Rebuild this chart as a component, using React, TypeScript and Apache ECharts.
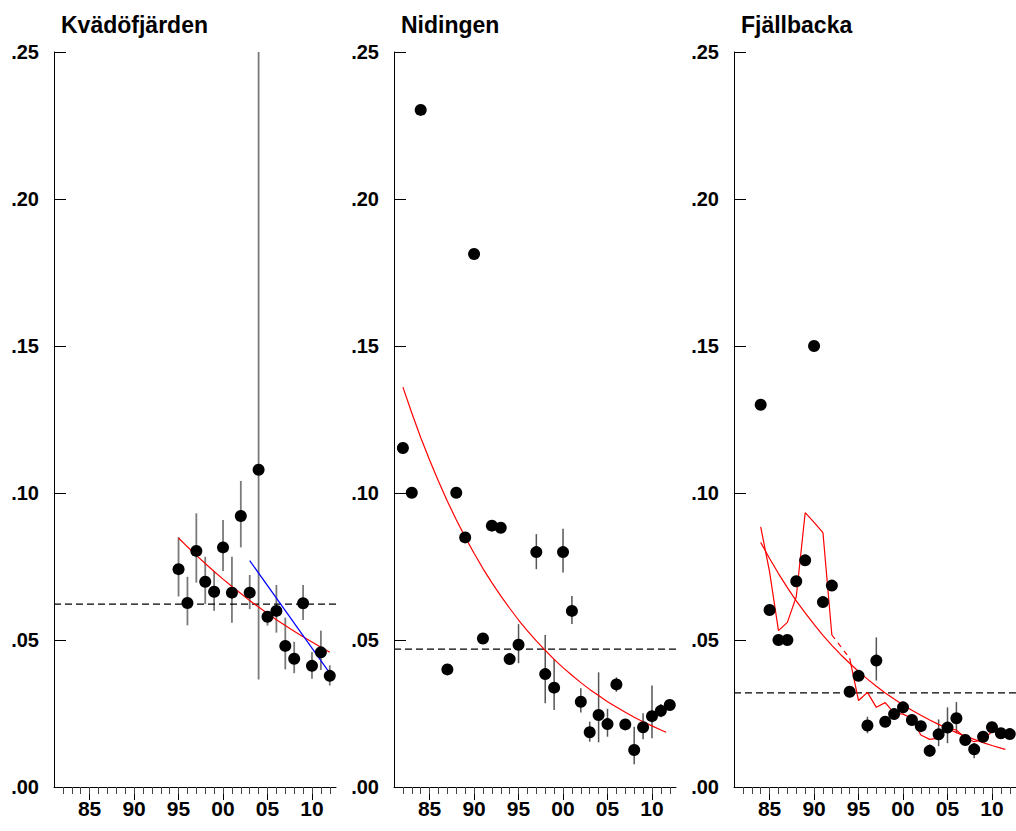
import React, { useEffect, useRef } from "react";
import * as echarts from "echarts";

const FONT = "'Liberation Sans', Arial, sans-serif";

const panelTitles = ["Kvädöfjärden", "Nidingen", "Fjällbacka"];
const meanLevels = [0.0622, 0.0469, 0.032];
const majorTicks = [1985, 1990, 1995, 2000, 2005, 2010];
const minorTicks = [1982, 1983, 1984, 1985, 1986, 1987, 1988, 1989, 1990, 1991, 1992, 1993, 1994, 1995, 1996, 1997, 1998, 1999, 2000, 2001, 2002, 2003, 2004, 2005, 2006, 2007, 2008, 2009, 2010, 2011, 2012];
const X_MIN = 1981;
const X_MAX = 2012.7;

// Panel 1: Kvädöfjärden
const kvYears = [1995, 1996, 1997, 1998, 1999, 2000, 2001, 2002, 2003, 2004, 2005, 2006, 2007, 2008, 2009, 2010, 2011, 2012];
const kvValues = [0.0741, 0.0626, 0.0803, 0.0698, 0.0664, 0.0815, 0.0661, 0.0922, 0.0661, 0.1079, 0.0579, 0.0599, 0.048, 0.0436, 0.0625, 0.0412, 0.0458, 0.0378];
const kvLow = [0.0648, 0.055, 0.0695, 0.0622, 0.0599, 0.0735, 0.0559, 0.0815, 0.0605, 0.0366, 0.0549, 0.0525, 0.04, 0.0387, 0.0568, 0.0368, 0.0398, 0.0345];
const kvHigh = [0.085, 0.0715, 0.0931, 0.0783, 0.0735, 0.0908, 0.0783, 0.1041, 0.0721, 0.25, 0.0596, 0.0687, 0.0576, 0.0494, 0.0687, 0.0459, 0.0532, 0.0414];
const kvTrendYears = [1995, 1996, 1997, 1998, 1999, 2000, 2001, 2002, 2003, 2004, 2005, 2006, 2007, 2008, 2009, 2010, 2011, 2012];
const kvTrend = [0.0847, 0.0817, 0.0788, 0.076, 0.0733, 0.0707, 0.0682, 0.0658, 0.0634, 0.0612, 0.059, 0.0569, 0.0549, 0.053, 0.0511, 0.0493, 0.0475, 0.0458];
const kvBlueYears = [2003, 2012];
const kvBlue = [0.077, 0.0387];

// Panel 2: Nidingen
const niYears = [1982, 1983, 1984, 1987, 1988, 1989, 1990, 1991, 1992, 1993, 1994, 1995, 1997, 1998, 1999, 2000, 2001, 2002, 2003, 2004, 2005, 2006, 2007, 2008, 2009, 2010, 2011, 2012];
const niValues = [0.1153, 0.1001, 0.2303, 0.04, 0.1001, 0.0849, 0.1813, 0.0505, 0.0889, 0.0882, 0.0435, 0.0484, 0.0799, 0.0384, 0.0338, 0.0799, 0.0599, 0.029, 0.0186, 0.0245, 0.0214, 0.0349, 0.0213, 0.0126, 0.0203, 0.0241, 0.0259, 0.0279];
const niLow = [null, null, null, null, null, null, null, null, null, null, null, 0.0421, 0.0741, 0.0285, 0.0262, 0.073, 0.0554, 0.0253, 0.0154, 0.0152, 0.0171, 0.0324, null, 0.0077, 0.0162, 0.0166, 0.0237, null];
const niHigh = [null, null, null, null, null, null, null, null, null, null, null, 0.0554, 0.086, 0.0517, 0.0435, 0.0878, 0.065, 0.0336, 0.0222, 0.039, 0.0266, 0.0373, null, 0.0205, 0.0251, 0.0345, 0.0282, null];
const niTrendYears = [1982, 1983, 1984, 1985, 1986, 1987, 1988, 1989, 1990, 1991, 1992, 1993, 1994, 1995, 1996, 1997, 1998, 1999, 2000, 2001, 2002, 2003, 2004, 2005, 2006, 2007, 2008, 2009, 2010, 2011, 2011.6];
const niTrend = [0.136, 0.1272, 0.1189, 0.1112, 0.104, 0.0972, 0.0909, 0.085, 0.0795, 0.0743, 0.0695, 0.065, 0.0608, 0.0568, 0.0531, 0.0497, 0.0465, 0.0434, 0.0406, 0.038, 0.0355, 0.0332, 0.0311, 0.029, 0.0272, 0.0254, 0.0237, 0.0222, 0.0208, 0.0194, 0.0186];

// Panel 3: Fjällbacka
const fjYears = [1984, 1985, 1986, 1987, 1988, 1989, 1990, 1991, 1992, 1994, 1995, 1996, 1997, 1998, 1999, 2000, 2001, 2002, 2003, 2004, 2005, 2006, 2007, 2008, 2009, 2010, 2011, 2012];
const fjValues = [0.13, 0.0602, 0.05, 0.05, 0.07, 0.0771, 0.15, 0.0629, 0.0685, 0.0324, 0.0378, 0.0209, 0.043, 0.0222, 0.0248, 0.0271, 0.0228, 0.0207, 0.0123, 0.0179, 0.0202, 0.0234, 0.016, 0.0128, 0.0171, 0.0203, 0.0183, 0.018];
const fjLow = [null, null, null, null, null, null, null, null, null, null, null, 0.0183, 0.0362, null, null, 0.0251, null, null, 0.0103, 0.0139, 0.0149, 0.0183, null, 0.0098, null, null, null, null];
const fjHigh = [null, null, null, null, null, null, null, null, null, null, null, 0.0239, 0.0509, null, null, 0.029, null, null, 0.0145, 0.023, 0.0271, 0.0289, null, 0.0149, null, null, null, null];
const fjTrendYears = [1984, 1985, 1986, 1987, 1988, 1989, 1990, 1991, 1992, 1993, 1994, 1995, 1996, 1997, 1998, 1999, 2000, 2001, 2002, 2003, 2004, 2005, 2006, 2007, 2008, 2009, 2010, 2011, 2011.5];
const fjTrend = [0.0832, 0.0777, 0.0726, 0.0678, 0.0633, 0.0592, 0.0553, 0.0516, 0.0482, 0.045, 0.0421, 0.0393, 0.0367, 0.0343, 0.032, 0.0299, 0.0279, 0.0261, 0.0244, 0.0228, 0.0213, 0.0199, 0.0185, 0.0173, 0.0162, 0.0151, 0.0141, 0.0132, 0.0128];
const fjRunYearsA = [1984, 1985, 1986, 1987, 1988, 1989, 1990, 1991, 1992];
const fjRunA = [0.0885, 0.0732, 0.0532, 0.056, 0.0647, 0.0933, 0.09, 0.0865, 0.0517];
const fjRunYearsGap = [1992, 1994];
const fjRunGap = [0.0517, 0.0438];
const fjRunYearsB = [1994, 1995, 1996, 1997, 1998, 1999, 2000, 2001, 2002, 2003, 2004, 2005, 2006, 2007, 2008, 2009, 2010, 2011, 2012];
const fjRunB = [0.0438, 0.0294, 0.0322, 0.0271, 0.0287, 0.0251, 0.0248, 0.0234, 0.0177, 0.0162, 0.0166, 0.02, 0.0194, 0.0166, 0.0154, 0.0162, 0.0188, 0.0191, 0.018];

const zip = (xs: number[], ys: (number | null)[]) => xs.map((x, i) => [x, ys[i]]);
const errData = (xs: number[], lo: (number | null)[], hi: (number | null)[]) =>
  xs.map((x, i) => [x, lo[i], hi[i]]).filter((d) => d[1] != null && d[2] != null);

const GRID_LEFTS = [54, 394, 734];

export default function App() {
  const ref = useRef<HTMLDivElement>(null);
  useEffect(() => {
    if (!ref.current) return;
    const chart = echarts.init(ref.current, undefined, { renderer: "svg" });

    const grids = GRID_LEFTS.map((l) => ({ left: l, top: 52, width: 282, height: 735 }));
    const xMajor = GRID_LEFTS.map((_, i) => ({
      type: "value",
      gridIndex: i,
      min: X_MIN,
      max: X_MAX,
      position: "bottom",
      axisLine: { show: true, onZero: false, lineStyle: { color: "#000", width: 1 } },
      axisTick: { show: true, inside: false, length: 13, customValues: majorTicks, lineStyle: { color: "#000", width: 1 } },
      axisLabel: {
        show: true,
        customValues: majorTicks,
        margin: 11,
        formatter: (v: number) => String(Math.round(v) % 100).padStart(2, "0"),
        color: "#000",
        fontFamily: FONT,
        fontWeight: "bold",
        fontSize: 21,
      },
      splitLine: { show: false },
    }));
    const xMinor = GRID_LEFTS.map((_, i) => ({
      type: "value",
      gridIndex: i,
      min: X_MIN,
      max: X_MAX,
      position: "bottom",
      axisLine: { show: false },
      axisTick: { show: true, inside: false, length: 7, customValues: minorTicks, lineStyle: { color: "#444", width: 1 } },
      axisLabel: { show: false },
      splitLine: { show: false },
    }));
    const yAxes = GRID_LEFTS.map((_, i) => ({
      type: "value",
      gridIndex: i,
      min: 0,
      max: 0.25,
      interval: 0.05,
      axisLine: { show: true, lineStyle: { color: "#000", width: 1 } },
      axisTick: { show: true, inside: true, length: 12, lineStyle: { color: "#000", width: 1 } },
      axisLabel: {
        show: true,
        margin: 15,
        formatter: (v: number) => v.toFixed(2).slice(1),
        color: "#000",
        fontFamily: FONT,
        fontWeight: "bold",
        fontSize: 20,
      },
      splitLine: { show: false },
    }));

    const errSeries = (i: number, data: any[], color: string, w: number) => ({
      type: "custom",
      xAxisIndex: i,
      yAxisIndex: i,
      z: 2,
      silent: true,
      data,
      encode: { x: 0, y: [1, 2] },
      clip: true,
      renderItem: (params: any, api: any) => {
        const x = api.value(0);
        const p1 = api.coord([x, api.value(1)]);
        const p2 = api.coord([x, api.value(2)]);
        return {
          type: "line",
          shape: { x1: p1[0], y1: p1[1], x2: p2[0], y2: p2[1] },
          style: { stroke: color, lineWidth: w },
        };
      },
    });
    const scatterSeries = (i: number, xs: number[], ys: number[]) => ({
      type: "scatter",
      xAxisIndex: i,
      yAxisIndex: i,
      z: 5,
      symbol: "circle",
      symbolSize: 12,
      itemStyle: { color: "#000", opacity: 1 },
      data: zip(xs, ys),
    });
    const lineSeries = (i: number, xs: number[], ys: number[], color: string, dash: any = "solid", width = 1.2, z = 4) => ({
      type: "line",
      xAxisIndex: i,
      yAxisIndex: i,
      z,
      showSymbol: false,
      symbol: "none",
      silent: true,
      lineStyle: { color, width, type: dash, opacity: 1 },
      data: zip(xs, ys),
    });
    const meanSeries = (i: number) =>
      lineSeries(i, [X_MIN, X_MAX], [meanLevels[i], meanLevels[i]], "#000", [7, 4], 1.4, 3);

    const option: any = {
      animation: false,
      backgroundColor: "#fff",
      grid: grids,
      xAxis: [...xMajor, ...xMinor],
      yAxis: yAxes,
      graphic: panelTitles.map((t, i) => ({
        type: "text",
        x: GRID_LEFTS[i] + 7,
        y: 25,
        style: {
          text: t,
          fill: "#000",
          font: `bold 23px ${FONT}`,
          verticalAlign: "middle",
          align: "left",
        },
      })),
      series: [
        meanSeries(0),
        errSeries(0, errData(kvYears, kvLow, kvHigh), "#7a7a7a", 1.8),
        lineSeries(0, kvTrendYears, kvTrend, "#ff0000"),
        lineSeries(0, kvBlueYears, kvBlue, "#0000ff"),
        scatterSeries(0, kvYears, kvValues),

        meanSeries(1),
        errSeries(1, errData(niYears, niLow, niHigh), "#555", 1.5),
        lineSeries(1, niTrendYears, niTrend, "#ff0000"),
        scatterSeries(1, niYears, niValues),

        meanSeries(2),
        errSeries(2, errData(fjYears, fjLow, fjHigh), "#555", 1.5),
        lineSeries(2, fjTrendYears, fjTrend, "#ff0000"),
        lineSeries(2, fjRunYearsA, fjRunA, "#ff0000"),
        lineSeries(2, fjRunYearsGap, fjRunGap, "#ff0000", [5, 5]),
        lineSeries(2, fjRunYearsB, fjRunB, "#ff0000"),
        scatterSeries(2, fjYears, fjValues),
      ],
    };
    chart.setOption(option);
    return () => chart.dispose();
  }, []);

  return (
    <div
      ref={ref}
      style={{ position: "absolute", left: 0, top: 0, width: 1016, height: 831, background: "#fff" }}
    />
  );
}
